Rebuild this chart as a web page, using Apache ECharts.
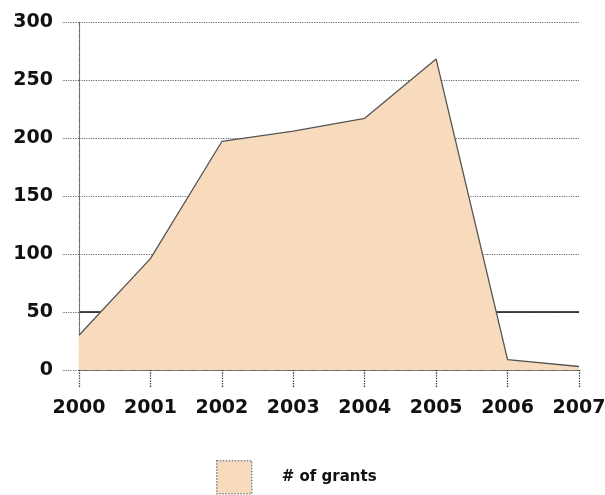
<!DOCTYPE html>
<html>
<head>
<meta charset="utf-8">
<script src="https://cdn.jsdelivr.net/npm/echarts@6/dist/echarts.min.js"></script>
<style>
  html, body { margin: 0; padding: 0; background: #fff; }
  #chart { width: 605px; height: 495px; }
</style>
</head>
<body>
<div id="chart"></div>
<script>
// Grants awarded per year
const years = ['2000', '2001', '2002', '2003', '2004', '2005', '2006', '2007'];
const grants = [30, 96, 197, 206, 217, 268, 9, 3];
const seriesName = '# of grants';
const yTicks = { min: 0, max: 300, step: 50 };

const FONT = 'DejaVu Sans, Verdana, sans-serif';
const gridGray = '#666';
const fillColor = '#f8dbbd';

const chart = echarts.init(document.getElementById('chart'), null, { renderer: 'canvas' });

chart.setOption({
  animation: false,
  backgroundColor: '#ffffff',
  grid: { left: 79, right: 26, top: 22, bottom: 125, containLabel: false, outerBoundsMode: 'none' },
  legend: {
    data: [seriesName],
    left: 216,
    top: 460,
    padding: 0,
    itemWidth: 35,
    itemHeight: 33,
    itemGap: 10,
    itemStyle: { color: fillColor, borderColor: '#888', borderType: 'dotted', borderWidth: 1.5 },
    textStyle: { fontFamily: FONT, fontSize: 15, fontWeight: 'bold', color: '#111', padding: [3, 0, 0, 25] },
    icon: 'rect'
  },
  xAxis: {
    type: 'category',
    data: years,
    boundaryGap: false,
    axisLine: { show: true, lineStyle: { color: gridGray, type: 'dotted', width: 1 } },
    axisTick: { show: true, length: 18, lineStyle: { color: '#333', type: 'dotted', width: 1.3 } },
    axisLabel: { fontFamily: FONT, fontSize: 19, fontWeight: 'bold', color: '#111', margin: 29 },
    splitLine: { show: false }
  },
  yAxis: [
    {
      type: 'value',
      min: yTicks.min,
      max: yTicks.max,
      interval: yTicks.step,
      axisLine: { show: true, lineStyle: { color: gridGray, type: 'dotted', width: 1.2 } },
      axisTick: { show: true, length: 17, lineStyle: { color: gridGray, type: 'dotted', width: 1.2 } },
      axisLabel: { fontFamily: FONT, fontSize: 19, fontWeight: 'bold', color: '#111', margin: 26 },
      splitLine: { show: true, lineStyle: { color: gridGray, type: 'dotted', width: 1.2 } }
    },
    {
      // overlay axis that draws the solid reference line at 50
      type: 'value',
      position: 'left',
      min: yTicks.min,
      max: yTicks.max,
      interval: yTicks.step,
      axisLine: { show: false },
      axisTick: { show: false },
      axisLabel: { show: false },
      splitLine: {
        show: true,
        lineStyle: {
          color: ['rgba(0,0,0,0)', '#111', 'rgba(0,0,0,0)', 'rgba(0,0,0,0)', 'rgba(0,0,0,0)', 'rgba(0,0,0,0)', 'rgba(0,0,0,0)'],
          type: 'solid',
          width: 1.6
        }
      }
    }
  ],
  series: [
    {
      name: seriesName,
      type: 'line',
      data: grants,
      yAxisIndex: 0,
      symbol: 'none',
      z: 5,
      lineStyle: { color: '#555', width: 1.3 },
      itemStyle: { color: fillColor },
      areaStyle: { color: fillColor, opacity: 1 }
    }
  ]
});
</script>
</body>
</html>
